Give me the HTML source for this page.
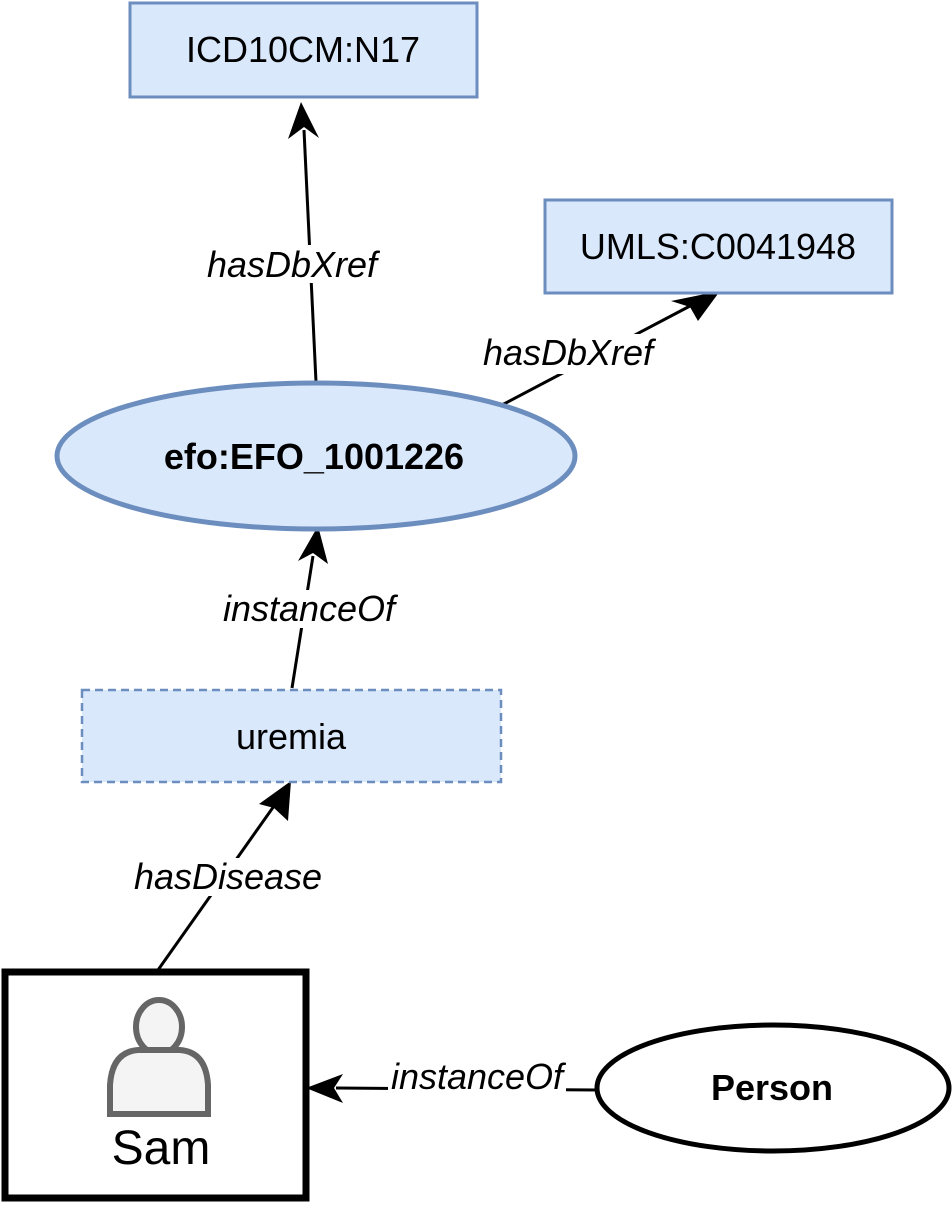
<!DOCTYPE html>
<html><head><meta charset="utf-8"><style>html,body{margin:0;padding:0;background:#fff}</style></head>
<body>
<svg width="952" height="1204" viewBox="0 0 952 1204" xmlns="http://www.w3.org/2000/svg" font-family="Liberation Sans, Arial, sans-serif">
<g stroke="#000" stroke-width="3" fill="none">
<line x1="316" y1="382" x2="304" y2="130"/>
<line x1="500" y1="406" x2="690" y2="306"/>
<line x1="292" y1="688" x2="313" y2="556"/>
<line x1="158" y1="970" x2="274" y2="806"/>
<line x1="597" y1="1090" x2="336" y2="1088"/>
</g>
<g fill="#000">
<polygon points="301,102 319,138 304,127 288,139"/>
<polygon points="720,291 698,321 690,307 671,301"/>
<polygon points="318,526 328,564 313,553 298,561"/>
<polygon points="291,781 288,821 274,808 259,804"/>
<polygon points="306,1088 343,1074 334,1088 343,1103"/>
</g>
<g font-style="italic" font-size="36" text-anchor="middle" fill="#000">
<rect x="200" y="245" width="185" height="38" fill="#fff"/>
<text x="292" y="277">hasDbXref</text>
<rect x="480" y="334" width="180" height="40" fill="#fff"/>
<text x="568" y="365">hasDbXref</text>
<rect x="218" y="590" width="180" height="38" fill="#fff"/>
<text x="309" y="621">instanceOf</text>
<rect x="132" y="858" width="192" height="38" fill="#fff"/>
<text x="228" y="889">hasDisease</text>
<rect x="388" y="1060" width="178" height="34" fill="#fff"/>
<text x="477" y="1089">instanceOf</text>
</g>
<rect x="130" y="3" width="347" height="94" fill="#dae8fc" stroke="#6c8ebf" stroke-width="3"/>
<text x="303" y="62" font-size="36" text-anchor="middle">ICD10CM:N17</text>
<rect x="545" y="200" width="347" height="93" fill="#dae8fc" stroke="#6c8ebf" stroke-width="3"/>
<text x="718" y="259" font-size="36" text-anchor="middle">UMLS:C0041948</text>
<ellipse cx="316" cy="456" rx="259" ry="73" fill="#dae8fc" stroke="#6c8ebf" stroke-width="5"/>
<text x="314" y="469" font-size="36" font-weight="bold" text-anchor="middle">efo:EFO_1001226</text>
<rect x="82" y="690" width="419" height="92" fill="#dae8fc" stroke="#6c8ebf" stroke-width="2.5" stroke-dasharray="8,5"/>
<text x="291" y="749" font-size="36" text-anchor="middle">uremia</text>
<rect x="5" y="972" width="301" height="226" fill="#fff" stroke="#000" stroke-width="7"/>
<ellipse cx="159" cy="1027" rx="23" ry="27" fill="#f4f4f4" stroke="#666" stroke-width="6"/>
<path d="M110,1114 L110,1085 Q112,1052 138,1050 L180,1050 Q206,1052 208,1085 L208,1114 Z" fill="#f4f4f4" stroke="#666" stroke-width="6"/>
<text x="161" y="1164" font-size="48" text-anchor="middle">Sam</text>
<ellipse cx="773" cy="1088" rx="176" ry="63" fill="#fff" stroke="#000" stroke-width="5"/>
<text x="772" y="1100" font-size="36" font-weight="bold" text-anchor="middle">Person</text>
</svg>
</body></html>
